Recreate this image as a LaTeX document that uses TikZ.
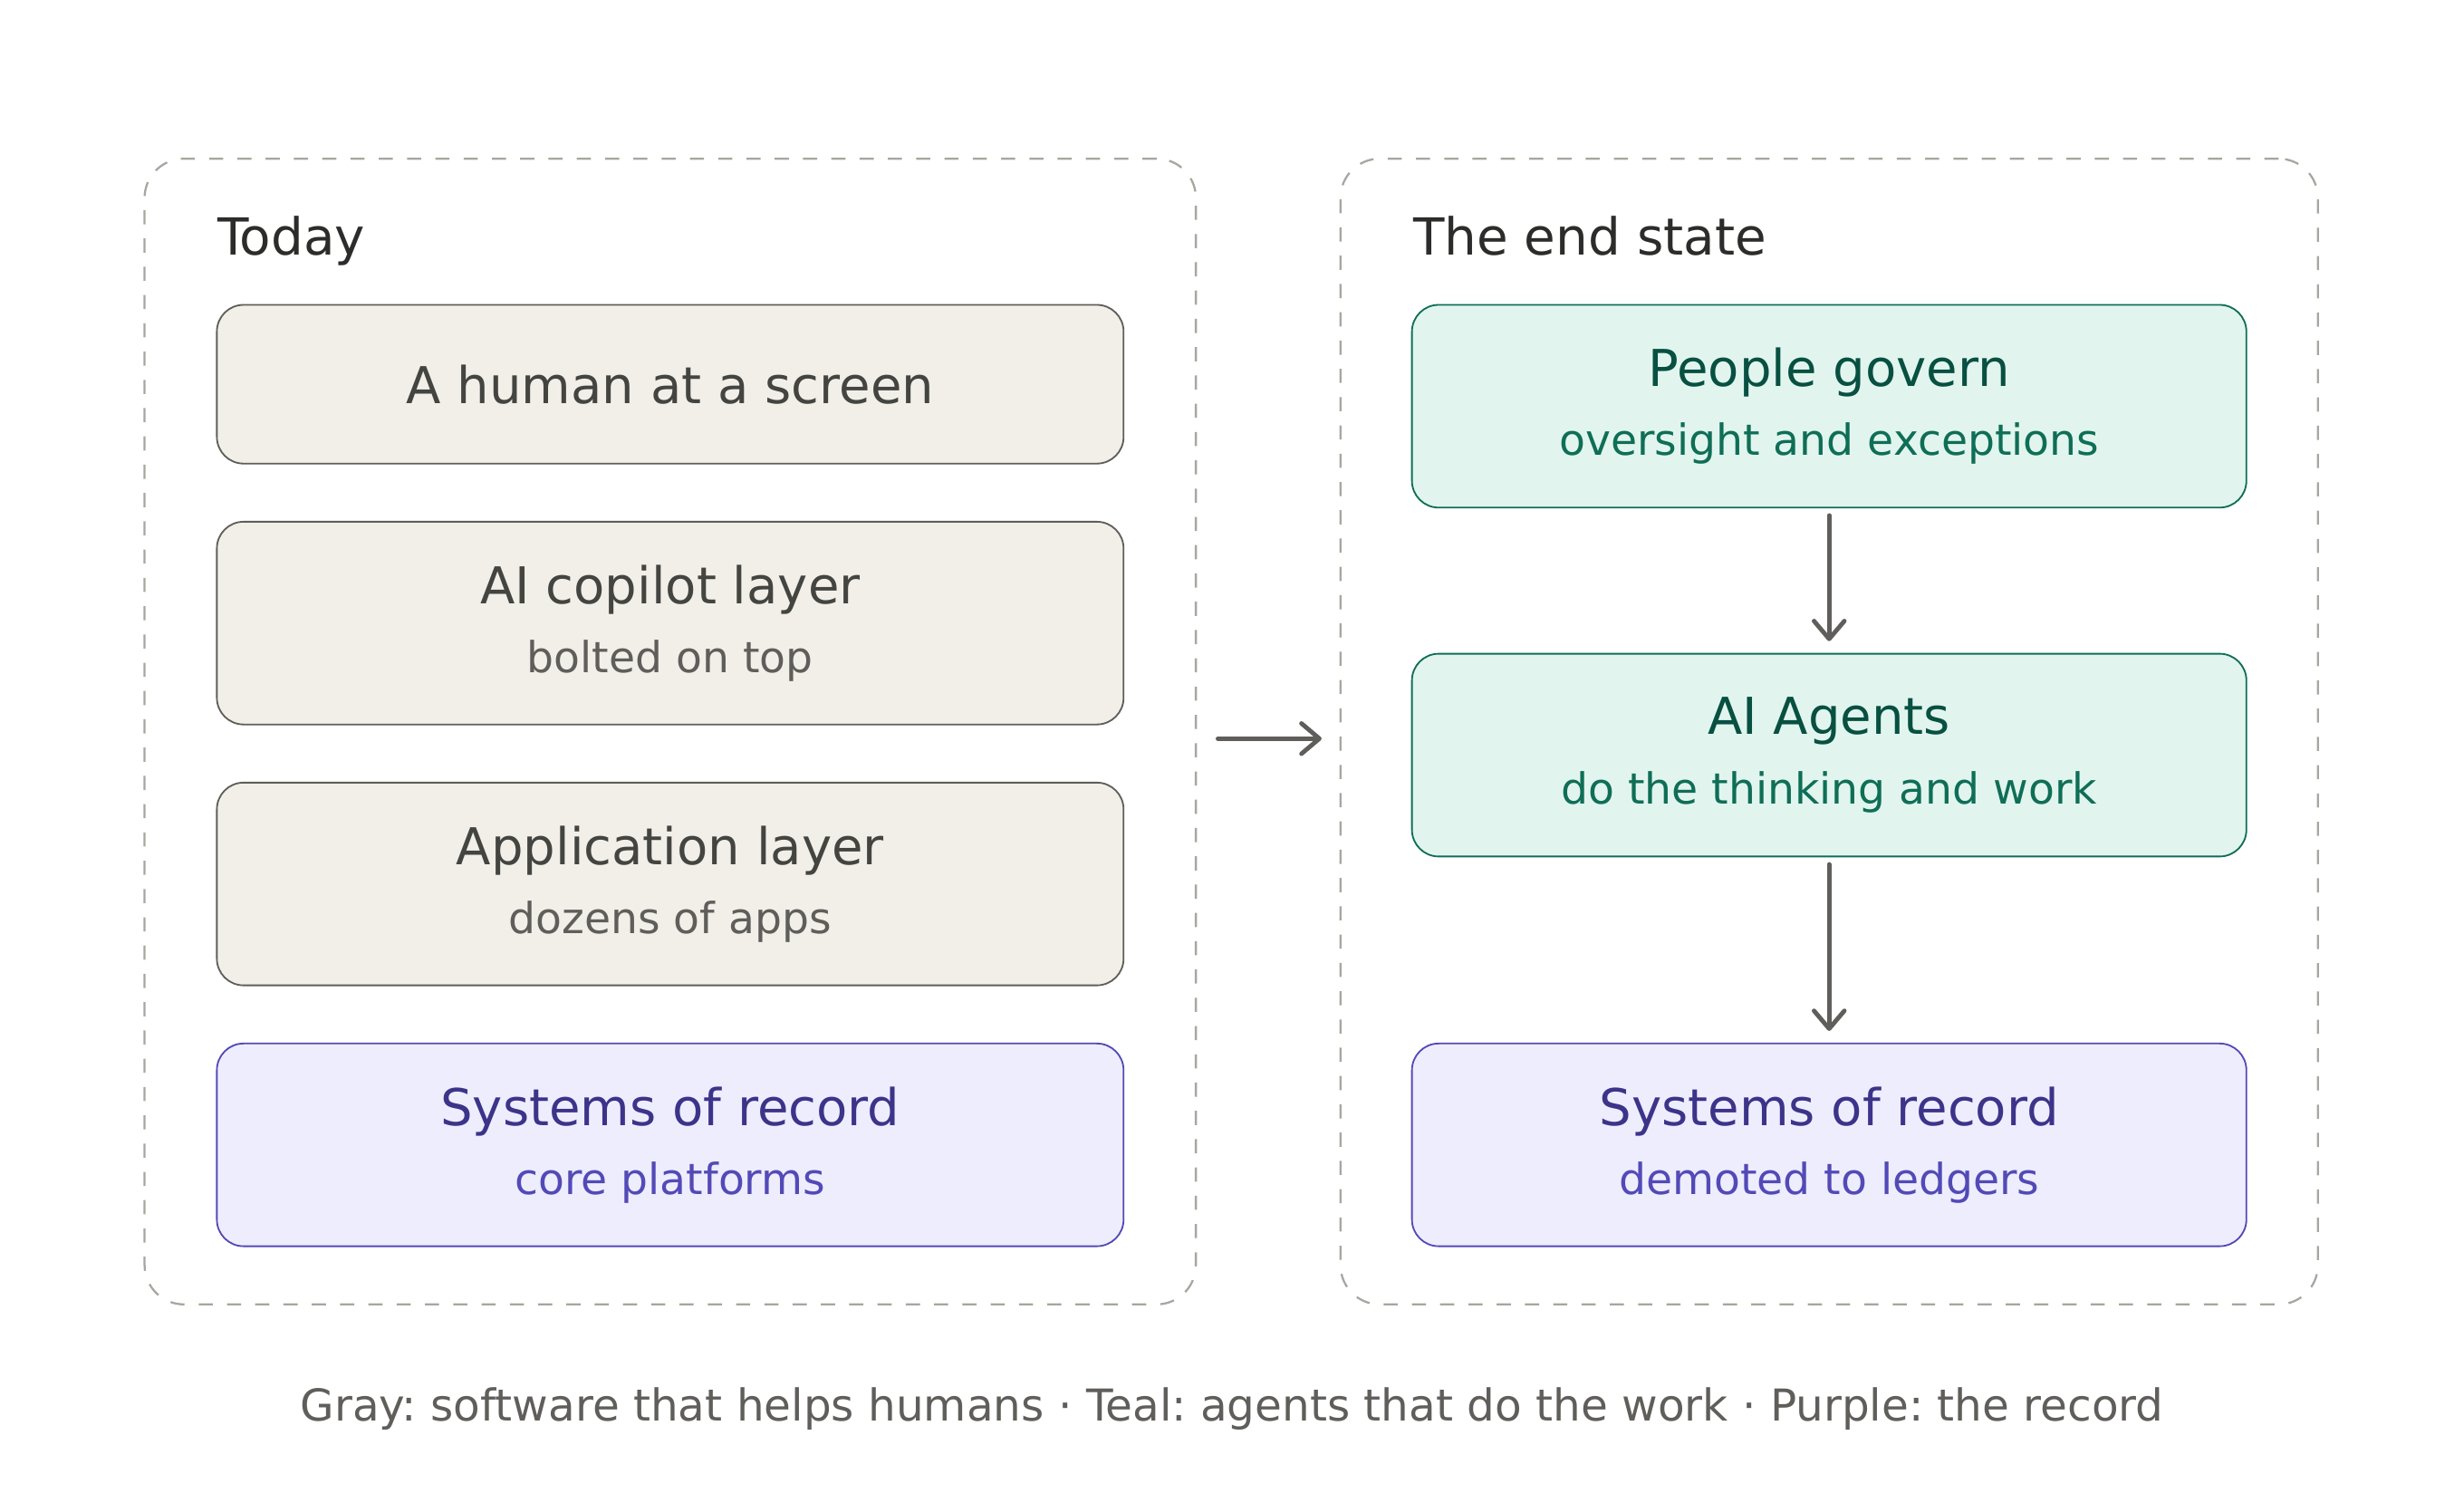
\documentclass[tikz,border=0pt]{standalone}
\usepackage{fontspec}
\setmainfont{DejaVu Sans}
\usepackage{xcolor}
\usetikzlibrary{arrows.meta, positioning}
\frenchspacing
\definecolor{frameline}{HTML}{A8A69F}
\definecolor{headink}{HTML}{2C2C2A}
\definecolor{grayfill}{HTML}{F1EFE8}
\definecolor{grayline}{HTML}{5F5E5A}
\definecolor{grayhead}{HTML}{444441}
\definecolor{graysub}{HTML}{5F5E5A}
\definecolor{tealfill}{HTML}{E1F5EE}
\definecolor{tealline}{HTML}{0F6E56}
\definecolor{tealhead}{HTML}{085041}
\definecolor{tealsub}{HTML}{0F6E56}
\definecolor{purplefill}{HTML}{EEEDFE}
\definecolor{purpleline}{HTML}{534AB7}
\definecolor{purplehead}{HTML}{3C3489}
\definecolor{purplesub}{HTML}{534AB7}
\newcommand{\subline}[2]{{\fontsize{15.5}{25}\selectfont\color{#1}#2}}
\tikzset{
  stackframe/.style={
    rectangle, draw=frameline, line width=0.75pt, dash pattern=on 0.18cm off 0.18cm,
    rounded corners=0.5cm, minimum height=14.58cm, outer sep=0pt
  },
  stacktitle/.style={
    anchor=base west, text=headink, font=\fontsize{18.5}{25}\selectfont, inner sep=0pt
  },
  layerbox/.style={
    rectangle, rounded corners=0.34cm, line width=0.6pt, align=center,
    minimum height=2.58cm, outer sep=0pt, font=\fontsize{18.4}{25}\selectfont
  },
  graybox/.style={
    layerbox, draw=grayline, fill=grayfill, text=grayhead, minimum width=11.54cm
  },
  tealbox/.style={
    layerbox, draw=tealline, fill=tealfill, text=tealhead, minimum width=10.62cm
  },
  purplebox/.style={
    layerbox, draw=purpleline, fill=purplefill, text=purplehead
  },
  flowarrow/.style={
    line width=1.6pt, draw=grayline, line cap=round,
    -{Straight Barb[length=6.5pt,width=11pt,line cap=round,line join=round]}
  }
}

\begin{document}
\begin{tikzpicture}
  \useasboundingbox (0,0) rectangle (31.36,19);
  \node[stackframe, minimum width=13.38cm] (today) at (8.53,9.69) {};
  \node[stackframe, minimum width=12.44cm] (endstate) at (23.28,9.69) {};
  \node[stacktitle] (todaytitle) at ([xshift=0.92cm, yshift=-1.23cm]today.north west) {Today};
  \node[stacktitle] (endtitle) at ([xshift=0.92cm, yshift=-1.23cm]endstate.north west) {The end state};

  % today: software that helps humans
  \node[graybox, minimum height=2.02cm, below=1.86cm of today.north] (human) {A human at a screen};
  \node[graybox, below=0.74cm of human] (copilot) {AI copilot layer\\\subline{graysub}{bolted on top}};
  \node[graybox, below=0.74cm of copilot] (apps) {Application layer\\\subline{graysub}{dozens of apps}};
  \node[purplebox, minimum width=11.54cm, below=0.74cm of apps] (recordold) {Systems of record\\\subline{purplesub}{core platforms}};

  % the end state: agents do the work
  \node[tealbox, below=1.86cm of endstate.north] (people) {People govern\\\subline{tealsub}{oversight and exceptions}};
  \node[tealbox, below=1.86cm of people] (agents) {AI Agents\\\subline{tealsub}{do the thinking and work}};
  \node[purplebox, minimum width=10.62cm, below=2.38cm of agents] (recordnew) {Systems of record\\\subline{purplesub}{demoted to ledgers}};

  \draw[flowarrow, shorten <=0.1cm, shorten >=0.16cm] (people) -- (agents);
  \draw[flowarrow, shorten <=0.1cm, shorten >=0.16cm] (agents) -- (recordnew);
  \draw[flowarrow, shorten <=0.28cm, shorten >=0.24cm] ([yshift=-0.09cm]today.east) -- ([yshift=-0.09cm]endstate.west);

  \node[anchor=base, font=\fontsize{15.9}{25}\selectfont, text=graysub] (legend) at (15.68,0.92)
    {Gray: software that helps humans · Teal: agents that do the work · Purple: the record};
\end{tikzpicture}
\end{document}
